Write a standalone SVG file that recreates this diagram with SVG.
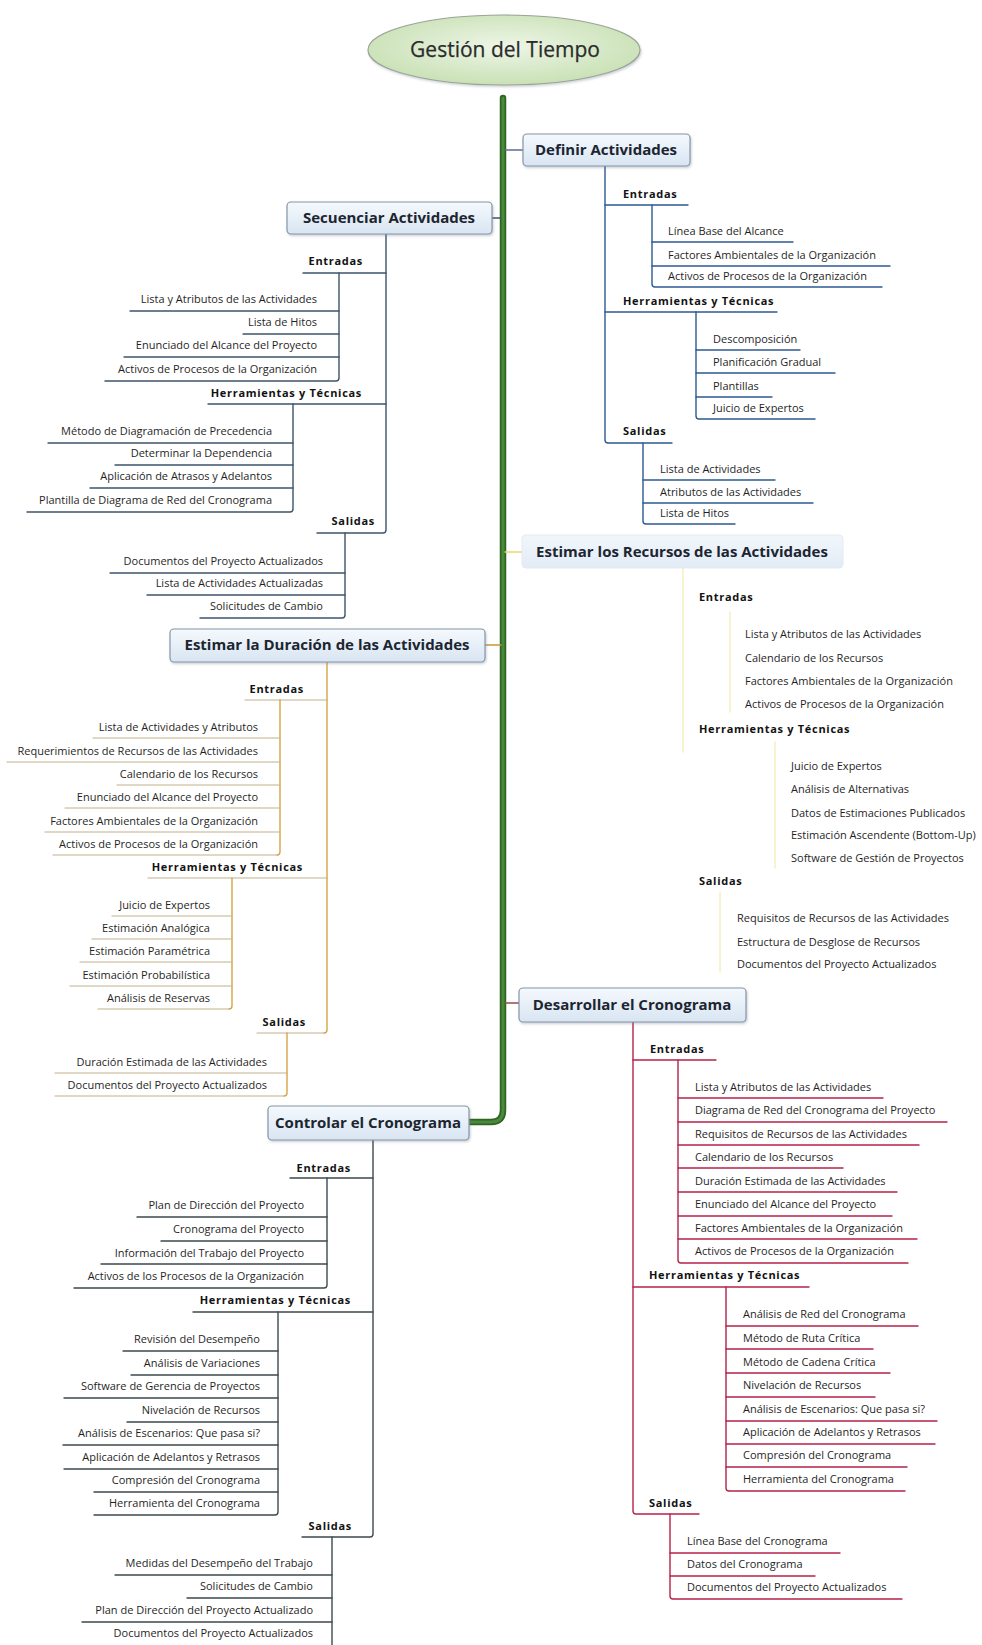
<svg xmlns="http://www.w3.org/2000/svg" width="982" height="1645" viewBox="0 0 982 1645">
  <defs>
    <linearGradient id="boxFill" x1="0" y1="0" x2="0" y2="1">
      <stop offset="0" stop-color="#f5f9fd"/>
      <stop offset="1" stop-color="#d8e5f2"/>
    </linearGradient>
    <linearGradient id="boxFillPale" x1="0" y1="0" x2="0" y2="1">
      <stop offset="0" stop-color="#f1f6fb"/>
      <stop offset="1" stop-color="#e2ecf6"/>
    </linearGradient>
    <radialGradient id="rootFill" cx="0.5" cy="0.45" r="0.6">
      <stop offset="0" stop-color="#eef6e7"/>
      <stop offset="1" stop-color="#c6dfb1"/>
    </radialGradient>
    <filter id="shadow" x="-10%" y="-20%" width="120%" height="150%">
      <feDropShadow dx="1" dy="1.5" stdDeviation="1.2" flood-color="#6a7a8a" flood-opacity="0.35"/>
    </filter>
  </defs>
  <style>
    text { font-family: "Open Sans", "Liberation Sans", sans-serif; }
    .root { font-size: 21px; fill: #2b2b2b; text-anchor: middle; stroke: #2b2b2b; stroke-width: 0.25; }
    .topic { font-size: 15px; font-weight: bold; fill: #1c2530; text-anchor: middle; }
    .cat { font-size: 11px; font-weight: bold; fill: #121212; letter-spacing: 0.7px; }
    .leaf { font-size: 11px; fill: #1f1f1f; }
    .l { text-anchor: end; }
    .box { fill: url(#boxFill); stroke: #8696a8; stroke-width: 1.2; filter: url(#shadow); }
    .box-pale { fill: url(#boxFillPale); stroke: #e3eaf1; stroke-width: 1; }
    path { fill: none; stroke-linecap: round; }
    .c-def { stroke: #2d5a92; stroke-width: 1.4; }
    .c-sec { stroke: #3d546c; stroke-width: 1.4; }
    .c-rec { stroke: #efe6a0; stroke-width: 1.4; opacity: 0.7; }
    .c-dur { stroke: #d6a446; stroke-width: 1.4; }
    .c-dur-u { stroke: #c4b08c; stroke-width: 1.2; }
    .c-des { stroke: #b5234a; stroke-width: 1.4; }
    .c-con { stroke: #3d4a4d; stroke-width: 1.4; }
  </style>

  <!-- connectors: trunk, topic links and category/item underlines -->
  <g id="connectors">
    <path d="M503,98 V1110 Q503,1122 491,1122 H469" stroke="#2f6424" stroke-width="6.5"/>
    <path d="M503,98 V1110 Q503,1122 491,1122 H469" stroke="#4a893a" stroke-width="3"/>
    <path d="M505,150 H523" stroke="#5a7090" stroke-width="1.4"/>
    <path d="M492,218 H501" stroke="#3d546c" stroke-width="1.4"/>
    <path d="M505,552 H522" stroke="#e6d970" stroke-width="1.4"/>
    <path d="M485,645 H501" stroke="#c8963a" stroke-width="1.4"/>
    <path d="M505,1003 H519" stroke="#8a5040" stroke-width="1.4"/>

    <!-- Definir Actividades -->
    <path class="c-def" d="M605,165 V440 Q605,443 608,443 H672"/>
    <path class="c-def" d="M605,205 H688"/>
    <path class="c-def" d="M605,312 H777"/>
    <path class="c-def" d="M652,205 V284 Q652,287 655,287 H882"/>
    <path class="c-def" d="M652,242 H793"/>
    <path class="c-def" d="M652,266 H890"/>
    <path class="c-def" d="M696,312 V416 Q696,419 699,419 H815"/>
    <path class="c-def" d="M696,350 H800"/>
    <path class="c-def" d="M696,373 H835"/>
    <path class="c-def" d="M696,397 H772"/>
    <path class="c-def" d="M643,443 V521 Q643,524 646,524 H735"/>
    <path class="c-def" d="M643,480 H775"/>
    <path class="c-def" d="M643,503 H813"/>

    <!-- Secuenciar Actividades -->
    <path class="c-sec" d="M386,234 V530 Q386,533 383,533 H317"/>
    <path class="c-sec" d="M386,273 H303"/>
    <path class="c-sec" d="M386,404 H208"/>
    <path class="c-sec" d="M339,273 V378 Q339,381 336,381 H105"/>
    <path class="c-sec" d="M339,311 H130"/>
    <path class="c-sec" d="M339,334 H243"/>
    <path class="c-sec" d="M339,357 H124"/>
    <path class="c-sec" d="M293,404 V509 Q293,512 290,512 H27"/>
    <path class="c-sec" d="M293,443 H48"/>
    <path class="c-sec" d="M293,465 H115"/>
    <path class="c-sec" d="M293,488 H90"/>
    <path class="c-sec" d="M345,533 V615 Q345,618 342,618 H200"/>
    <path class="c-sec" d="M345,573 H110"/>
    <path class="c-sec" d="M345,595 H147"/>

    <!-- Estimar los Recursos de las Actividades -->
    <path class="c-rec" d="M683,568 V752"/>
    <path class="c-rec" d="M730,612 V712"/>
    <path class="c-rec" d="M775,742 V868"/>
    <path class="c-rec" d="M720,892 V972"/>

    <!-- Estimar la Duración de las Actividades -->
    <path class="c-dur" d="M327,662 V1030 Q327,1033 324,1033"/>
    <path class="c-dur-u" d="M324,1033 H257"/>
    <path class="c-dur-u" d="M327,700 H245"/>
    <path class="c-dur-u" d="M327,878 H148"/>
    <path class="c-dur" d="M280,700 V852 Q280,855 277,855"/>
    <path class="c-dur-u" d="M277,855 H53"/>
    <path class="c-dur-u" d="M280,738 H93"/>
    <path class="c-dur-u" d="M280,762 H7"/>
    <path class="c-dur-u" d="M280,785 H117"/>
    <path class="c-dur-u" d="M280,808 H65"/>
    <path class="c-dur-u" d="M280,832 H45"/>
    <path class="c-dur" d="M232,878 V1006 Q232,1009 229,1009"/>
    <path class="c-dur-u" d="M229,1009 H98"/>
    <path class="c-dur-u" d="M232,916 H112"/>
    <path class="c-dur-u" d="M232,939 H92"/>
    <path class="c-dur-u" d="M232,962 H80"/>
    <path class="c-dur-u" d="M232,986 H70"/>
    <path class="c-dur" d="M287,1033 V1093 Q287,1096 284,1096"/>
    <path class="c-dur-u" d="M284,1096 H55"/>
    <path class="c-dur-u" d="M287,1073 H55"/>

    <!-- Desarrollar el Cronograma -->
    <path class="c-des" d="M633,1022 V1511 Q633,1514 636,1514 H699"/>
    <path class="c-des" d="M633,1060 H716"/>
    <path class="c-des" d="M633,1287 H809"/>
    <path class="c-des" d="M678,1060 V1260 Q678,1263 681,1263 H908"/>
    <path class="c-des" d="M678,1098 H883"/>
    <path class="c-des" d="M678,1122 H947"/>
    <path class="c-des" d="M678,1145 H919"/>
    <path class="c-des" d="M678,1168 H843"/>
    <path class="c-des" d="M678,1192 H897"/>
    <path class="c-des" d="M678,1216 H892"/>
    <path class="c-des" d="M678,1239 H917"/>
    <path class="c-des" d="M726,1287 V1488 Q726,1491 729,1491 H905"/>
    <path class="c-des" d="M726,1326 H918"/>
    <path class="c-des" d="M726,1349 H873"/>
    <path class="c-des" d="M726,1373 H890"/>
    <path class="c-des" d="M726,1397 H875"/>
    <path class="c-des" d="M726,1421 H937"/>
    <path class="c-des" d="M726,1444 H935"/>
    <path class="c-des" d="M726,1467 H907"/>
    <path class="c-des" d="M670,1514 V1596 Q670,1599 673,1599 H902"/>
    <path class="c-des" d="M670,1553 H840"/>
    <path class="c-des" d="M670,1576 H815"/>

    <!-- Controlar el Cronograma -->
    <path class="c-con" d="M373,1140 V1534 Q373,1537 370,1537 H302"/>
    <path class="c-con" d="M373,1178 H290"/>
    <path class="c-con" d="M373,1312 H193"/>
    <path class="c-con" d="M327,1178 V1285 Q327,1288 324,1288 H74"/>
    <path class="c-con" d="M327,1217 H137"/>
    <path class="c-con" d="M327,1241 H161"/>
    <path class="c-con" d="M327,1264 H101"/>
    <path class="c-con" d="M278,1312 V1512 Q278,1515 275,1515 H94"/>
    <path class="c-con" d="M278,1351 H123"/>
    <path class="c-con" d="M278,1375 H131"/>
    <path class="c-con" d="M278,1398 H64"/>
    <path class="c-con" d="M278,1422 H127"/>
    <path class="c-con" d="M278,1445 H63"/>
    <path class="c-con" d="M278,1469 H64"/>
    <path class="c-con" d="M278,1492 H94"/>
    <path class="c-con" d="M332,1537 V1645"/>
    <path class="c-con" d="M332,1575 H115"/>
    <path class="c-con" d="M332,1598 H187"/>
    <path class="c-con" d="M332,1622 H82"/>
  </g>

  <!-- central topic -->
  <g id="root">
    <ellipse cx="504" cy="50" rx="136" ry="35" fill="url(#rootFill)" stroke="#9aa596" stroke-width="1.2" filter="url(#shadow)"/>
    <text class="root" x="505" y="57">Gestión del Tiempo</text>
  </g>

  <!-- process topics -->
  <g id="definir">
    <rect class="box" x="523" y="134" width="167" height="32" rx="4"/>
    <text class="topic" x="606" y="155">Definir Actividades</text>
  </g>
  <g id="secuenciar">
    <rect class="box" x="287" y="202" width="205" height="32" rx="4"/>
    <text class="topic" x="389" y="223">Secuenciar Actividades</text>
  </g>
  <g id="recursos">
    <rect class="box-pale" x="522" y="535" width="321" height="33" rx="4"/>
    <text class="topic" x="682" y="557">Estimar los Recursos de las Actividades</text>
  </g>
  <g id="duracion">
    <rect class="box" x="170" y="629" width="315" height="33" rx="4"/>
    <text class="topic" x="327" y="650">Estimar la Duración de las Actividades</text>
  </g>
  <g id="desarrollar">
    <rect class="box" x="519" y="988" width="227" height="34" rx="4"/>
    <text class="topic" x="632" y="1010">Desarrollar el Cronograma</text>
  </g>
  <g id="controlar">
    <rect class="box" x="268" y="1106" width="201" height="34" rx="4"/>
    <text class="topic" x="368" y="1128">Controlar el Cronograma</text>
  </g>

  <!-- Definir Actividades: items -->
  <g id="def-ent"><text class="cat" x="623" y="198">Entradas</text></g>
  <g id="def-ent-1"><text class="leaf" x="668" y="235">Línea Base del Alcance</text></g>
  <g id="def-ent-2"><text class="leaf" x="668" y="259">Factores Ambientales de la Organización</text></g>
  <g id="def-ent-3"><text class="leaf" x="668" y="280">Activos de Procesos de la Organización</text></g>
  <g id="def-her"><text class="cat" x="623" y="305">Herramientas y Técnicas</text></g>
  <g id="def-her-1"><text class="leaf" x="713" y="343">Descomposición</text></g>
  <g id="def-her-2"><text class="leaf" x="713" y="366">Planificación Gradual</text></g>
  <g id="def-her-3"><text class="leaf" x="713" y="390">Plantillas</text></g>
  <g id="def-her-4"><text class="leaf" x="713" y="412">Juicio de Expertos</text></g>
  <g id="def-sal"><text class="cat" x="623" y="435">Salidas</text></g>
  <g id="def-sal-1"><text class="leaf" x="660" y="473">Lista de Actividades</text></g>
  <g id="def-sal-2"><text class="leaf" x="660" y="496">Atributos de las Actividades</text></g>
  <g id="def-sal-3"><text class="leaf" x="660" y="517">Lista de Hitos</text></g>

  <!-- Secuenciar Actividades: items -->
  <g id="sec-ent"><text class="cat l" x="363" y="265">Entradas</text></g>
  <g id="sec-ent-1"><text class="leaf l" x="317" y="303">Lista y Atributos de las Actividades</text></g>
  <g id="sec-ent-2"><text class="leaf l" x="317" y="326">Lista de Hitos</text></g>
  <g id="sec-ent-3"><text class="leaf l" x="317" y="349">Enunciado del Alcance del Proyecto</text></g>
  <g id="sec-ent-4"><text class="leaf l" x="317" y="373">Activos de Procesos de la Organización</text></g>
  <g id="sec-her"><text class="cat l" x="362" y="397">Herramientas y Técnicas</text></g>
  <g id="sec-her-1"><text class="leaf l" x="272" y="435">Método de Diagramación de Precedencia</text></g>
  <g id="sec-her-2"><text class="leaf l" x="272" y="457">Determinar la Dependencia</text></g>
  <g id="sec-her-3"><text class="leaf l" x="272" y="480">Aplicación de Atrasos y Adelantos</text></g>
  <g id="sec-her-4"><text class="leaf l" x="272" y="504">Plantilla de Diagrama de Red del Cronograma</text></g>
  <g id="sec-sal"><text class="cat l" x="375" y="525">Salidas</text></g>
  <g id="sec-sal-1"><text class="leaf l" x="323" y="565">Documentos del Proyecto Actualizados</text></g>
  <g id="sec-sal-2"><text class="leaf l" x="323" y="587">Lista de Actividades Actualizadas</text></g>
  <g id="sec-sal-3"><text class="leaf l" x="323" y="610">Solicitudes de Cambio</text></g>

  <!-- Estimar los Recursos de las Actividades: items -->
  <g id="rec-ent"><text class="cat" x="699" y="601">Entradas</text></g>
  <g id="rec-ent-1"><text class="leaf" x="745" y="638">Lista y Atributos de las Actividades</text></g>
  <g id="rec-ent-2"><text class="leaf" x="745" y="662">Calendario de los Recursos</text></g>
  <g id="rec-ent-3"><text class="leaf" x="745" y="685">Factores Ambientales de la Organización</text></g>
  <g id="rec-ent-4"><text class="leaf" x="745" y="708">Activos de Procesos de la Organización</text></g>
  <g id="rec-her"><text class="cat" x="699" y="733">Herramientas y Técnicas</text></g>
  <g id="rec-her-1"><text class="leaf" x="791" y="770">Juicio de Expertos</text></g>
  <g id="rec-her-2"><text class="leaf" x="791" y="793">Análisis de Alternativas</text></g>
  <g id="rec-her-3"><text class="leaf" x="791" y="817">Datos de Estimaciones Publicados</text></g>
  <g id="rec-her-4"><text class="leaf" x="791" y="839">Estimación Ascendente (Bottom-Up)</text></g>
  <g id="rec-her-5"><text class="leaf" x="791" y="862">Software de Gestión de Proyectos</text></g>
  <g id="rec-sal"><text class="cat" x="699" y="885">Salidas</text></g>
  <g id="rec-sal-1"><text class="leaf" x="737" y="922">Requisitos de Recursos de las Actividades</text></g>
  <g id="rec-sal-2"><text class="leaf" x="737" y="946">Estructura de Desglose de Recursos</text></g>
  <g id="rec-sal-3"><text class="leaf" x="737" y="968">Documentos del Proyecto Actualizados</text></g>

  <!-- Estimar la Duración de las Actividades: items -->
  <g id="dur-ent"><text class="cat l" x="304" y="693">Entradas</text></g>
  <g id="dur-ent-1"><text class="leaf l" x="258" y="731">Lista de Actividades y Atributos</text></g>
  <g id="dur-ent-2"><text class="leaf l" x="258" y="755">Requerimientos de Recursos de las Actividades</text></g>
  <g id="dur-ent-3"><text class="leaf l" x="258" y="778">Calendario de los Recursos</text></g>
  <g id="dur-ent-4"><text class="leaf l" x="258" y="801">Enunciado del Alcance del Proyecto</text></g>
  <g id="dur-ent-5"><text class="leaf l" x="258" y="825">Factores Ambientales de la Organización</text></g>
  <g id="dur-ent-6"><text class="leaf l" x="258" y="848">Activos de Procesos de la Organización</text></g>
  <g id="dur-her"><text class="cat l" x="303" y="871">Herramientas y Técnicas</text></g>
  <g id="dur-her-1"><text class="leaf l" x="210" y="909">Juicio de Expertos</text></g>
  <g id="dur-her-2"><text class="leaf l" x="210" y="932">Estimación Analógica</text></g>
  <g id="dur-her-3"><text class="leaf l" x="210" y="955">Estimación Paramétrica</text></g>
  <g id="dur-her-4"><text class="leaf l" x="210" y="979">Estimación Probabilística</text></g>
  <g id="dur-her-5"><text class="leaf l" x="210" y="1002">Análisis de Reservas</text></g>
  <g id="dur-sal"><text class="cat l" x="306" y="1026">Salidas</text></g>
  <g id="dur-sal-1"><text class="leaf l" x="267" y="1066">Duración Estimada de las Actividades</text></g>
  <g id="dur-sal-2"><text class="leaf l" x="267" y="1089">Documentos del Proyecto Actualizados</text></g>

  <!-- Desarrollar el Cronograma: items -->
  <g id="des-ent"><text class="cat" x="650" y="1053">Entradas</text></g>
  <g id="des-ent-1"><text class="leaf" x="695" y="1091">Lista y Atributos de las Actividades</text></g>
  <g id="des-ent-2"><text class="leaf" x="695" y="1114">Diagrama de Red del Cronograma del Proyecto</text></g>
  <g id="des-ent-3"><text class="leaf" x="695" y="1138">Requisitos de Recursos de las Actividades</text></g>
  <g id="des-ent-4"><text class="leaf" x="695" y="1161">Calendario de los Recursos</text></g>
  <g id="des-ent-5"><text class="leaf" x="695" y="1185">Duración Estimada de las Actividades</text></g>
  <g id="des-ent-6"><text class="leaf" x="695" y="1208">Enunciado del Alcance del Proyecto</text></g>
  <g id="des-ent-7"><text class="leaf" x="695" y="1232">Factores Ambientales de la Organización</text></g>
  <g id="des-ent-8"><text class="leaf" x="695" y="1255">Activos de Procesos de la Organización</text></g>
  <g id="des-her"><text class="cat" x="649" y="1279">Herramientas y Técnicas</text></g>
  <g id="des-her-1"><text class="leaf" x="743" y="1318">Análisis de Red del Cronograma</text></g>
  <g id="des-her-2"><text class="leaf" x="743" y="1342">Método de Ruta Crítica</text></g>
  <g id="des-her-3"><text class="leaf" x="743" y="1366">Método de Cadena Crítica</text></g>
  <g id="des-her-4"><text class="leaf" x="743" y="1389">Nivelación de Recursos</text></g>
  <g id="des-her-5"><text class="leaf" x="743" y="1413">Análisis de Escenarios: Que pasa si?</text></g>
  <g id="des-her-6"><text class="leaf" x="743" y="1436">Aplicación de Adelantos y Retrasos</text></g>
  <g id="des-her-7"><text class="leaf" x="743" y="1459">Compresión del Cronograma</text></g>
  <g id="des-her-8"><text class="leaf" x="743" y="1483">Herramienta del Cronograma</text></g>
  <g id="des-sal"><text class="cat" x="649" y="1507">Salidas</text></g>
  <g id="des-sal-1"><text class="leaf" x="687" y="1545">Línea Base del Cronograma</text></g>
  <g id="des-sal-2"><text class="leaf" x="687" y="1568">Datos del Cronograma</text></g>
  <g id="des-sal-3"><text class="leaf" x="687" y="1591">Documentos del Proyecto Actualizados</text></g>

  <!-- Controlar el Cronograma: items -->
  <g id="con-ent"><text class="cat l" x="351" y="1172">Entradas</text></g>
  <g id="con-ent-1"><text class="leaf l" x="304" y="1209">Plan de Dirección del Proyecto</text></g>
  <g id="con-ent-2"><text class="leaf l" x="304" y="1233">Cronograma del Proyecto</text></g>
  <g id="con-ent-3"><text class="leaf l" x="304" y="1257">Información del Trabajo del Proyecto</text></g>
  <g id="con-ent-4"><text class="leaf l" x="304" y="1280">Activos de los Procesos de la Organización</text></g>
  <g id="con-her"><text class="cat l" x="351" y="1304">Herramientas y Técnicas</text></g>
  <g id="con-her-1"><text class="leaf l" x="260" y="1343">Revisión del Desempeño</text></g>
  <g id="con-her-2"><text class="leaf l" x="260" y="1367">Análisis de Variaciones</text></g>
  <g id="con-her-3"><text class="leaf l" x="260" y="1390">Software de Gerencia de Proyectos</text></g>
  <g id="con-her-4"><text class="leaf l" x="260" y="1414">Nivelación de Recursos</text></g>
  <g id="con-her-5"><text class="leaf l" x="260" y="1437">Análisis de Escenarios: Que pasa si?</text></g>
  <g id="con-her-6"><text class="leaf l" x="260" y="1461">Aplicación de Adelantos y Retrasos</text></g>
  <g id="con-her-7"><text class="leaf l" x="260" y="1484">Compresión del Cronograma</text></g>
  <g id="con-her-8"><text class="leaf l" x="260" y="1507">Herramienta del Cronograma</text></g>
  <g id="con-sal"><text class="cat l" x="352" y="1530">Salidas</text></g>
  <g id="con-sal-1"><text class="leaf l" x="313" y="1567">Medidas del Desempeño del Trabajo</text></g>
  <g id="con-sal-2"><text class="leaf l" x="313" y="1590">Solicitudes de Cambio</text></g>
  <g id="con-sal-3"><text class="leaf l" x="313" y="1614">Plan de Dirección del Proyecto Actualizado</text></g>
  <g id="con-sal-4"><text class="leaf l" x="313" y="1637">Documentos del Proyecto Actualizados</text></g>
</svg>
